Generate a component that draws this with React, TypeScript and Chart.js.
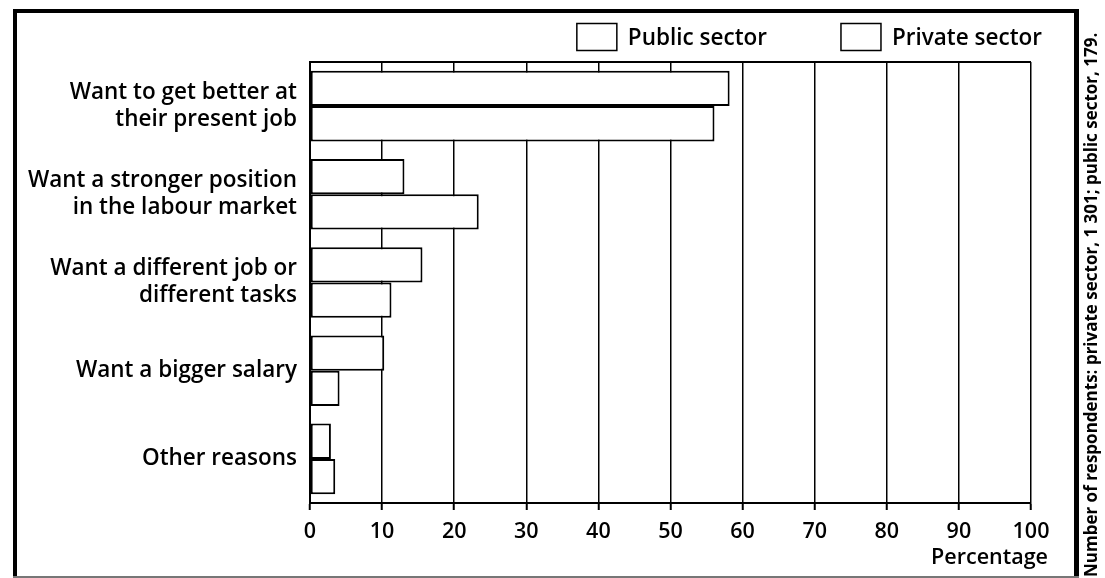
import React, { useEffect, useRef } from 'react';
import { Chart, registerables } from 'chart.js';

Chart.register(...registerables);

// ---- data ----
const categories: (string | string[])[] = [
  ['Want to get better at', 'their present job'],
  ['Want a stronger position', 'in the labour market'],
  ['Want a different job or', 'different tasks'],
  'Want a bigger salary',
  'Other reasons',
];
const seriesNames = ['Public sector', 'Private sector'];
const publicSector = [58.2, 13.1, 15.6, 10.3, 2.9];
const privateSector = [56.1, 23.4, 11.3, 4.1, 3.5];
const xTicks = [0, 10, 20, 30, 40, 50, 60, 70, 80, 90, 100];
const axisTitle = 'Percentage';
const note = 'Number of respondents: private sector, 1 301; public sector, 179.';

const FONT = '"Open Sans"';

const decor = {
  id: 'decor',
  beforeDraw(chart: any) {
    const ctx = chart.ctx as CanvasRenderingContext2D;
    ctx.save();
    ctx.fillStyle = '#fff';
    ctx.fillRect(0, 0, chart.width, chart.height);
    // frame
    ctx.fillStyle = '#000';
    ctx.fillRect(13, 9, 4, 569);
    ctx.fillRect(13, 9, 1066, 4);
    ctx.fillRect(1074, 9, 5, 569);
    ctx.fillStyle = '#777';
    ctx.fillRect(13, 576, 1066, 2);
    ctx.restore();
  },
  afterDraw(chart: any) {
    const ctx = chart.ctx as CanvasRenderingContext2D;
    const { left, right, top } = chart.chartArea;
    ctx.save();
    // top line of plot frame
    ctx.strokeStyle = '#000';
    ctx.lineWidth = 2;
    ctx.beginPath();
    ctx.moveTo(left, top);
    ctx.lineTo(right, top);
    ctx.stroke();

    // legend (right-aligned)
    ctx.font = `600 22.5px ${FONT}`;
    ctx.textBaseline = 'middle';
    ctx.textAlign = 'left';
    const boxW = 40, boxH = 27, boxGap = 11, itemGap = 74;
    const legendRight = 1042;
    const names = chart.data.datasets.map((d: any) => d.label);
    const widths = names.map((n: string) => ctx.measureText(n).width);
    let total = 0;
    names.forEach((_: string, i: number) => {
      total += boxW + boxGap + widths[i] + (i < names.length - 1 ? itemGap : 0);
    });
    let x = legendRight - total;
    const cy = 37;
    names.forEach((n: string, i: number) => {
      const ds = chart.data.datasets[i];
      ctx.fillStyle = ds.backgroundColor;
      ctx.fillRect(x, cy - boxH / 2, boxW, boxH);
      ctx.strokeStyle = '#000';
      ctx.lineWidth = 1.5;
      ctx.strokeRect(x, cy - boxH / 2, boxW, boxH);
      ctx.fillStyle = '#000';
      ctx.fillText(n, x + boxW + boxGap, cy + 2);
      x += boxW + boxGap + widths[i] + itemGap;
    });

    // axis caption
    ctx.textAlign = 'right';
    ctx.font = `600 21.5px ${FONT}`;
    ctx.fillText(axisTitle, 1048, 558);

    // vertical note
    ctx.translate(1092, 577);
    ctx.rotate(-Math.PI / 2);
    ctx.textAlign = 'left';
    ctx.textBaseline = 'middle';
    ctx.font = `bold 17px ${FONT}`;
    ctx.fillText(note, 0, 0);
    ctx.restore();
  },
};

export default function App() {
  const ref = useRef<HTMLCanvasElement | null>(null);
  useEffect(() => {
    document.body.style.margin = '0';
    const canvas = ref.current!;
    const chart = new Chart(canvas, {
      type: 'bar',
      data: {
        labels: categories,
        datasets: [
          {
            label: seriesNames[0],
            data: publicSector,
            backgroundColor: '#fff',
            borderColor: '#000',
            borderWidth: 2,
            borderSkipped: false,
          },
          {
            label: seriesNames[1],
            data: privateSector,
            backgroundColor: '#fff',
            borderColor: '#000',
            borderWidth: 2,
            borderSkipped: false,
          },
        ],
      },
      options: {
        indexAxis: 'y',
        animation: false,
        responsive: false,
        devicePixelRatio: 1,
        layout: { padding: { left: 0, right: 74, top: 62, bottom: 0 } },
        datasets: { bar: { categoryPercentage: 0.8, barPercentage: 1 } },
        plugins: { legend: { display: false }, tooltip: { enabled: false } },
        scales: {
          x: {
            type: 'linear',
            position: 'bottom',
            min: 0,
            max: 100,
            afterBuildTicks: (s: any) => {
              s.ticks = xTicks.map((v) => ({ value: v }));
            },
            ticks: {
              color: '#000',
              font: { family: FONT, size: 21.5, weight: '600' },
              padding: 9,
              maxRotation: 0,
            },
            grid: {
              color: '#000',
              lineWidth: 1.5,
              drawTicks: true,
              tickLength: 7,
              tickColor: '#000',
              tickWidth: 2,
            },
            border: { color: '#000', width: 2 },
            afterFit: (s: any) => {
              s.height = 75;
            },
          },
          y: {
            type: 'category',
            position: 'left',
            ticks: {
              color: '#000',
              font: { family: FONT, size: 22.5, weight: '600', lineHeight: 1.2 },
              padding: 13,
            },
            grid: { display: false, drawTicks: false },
            border: { color: '#000', width: 2 },
            afterFit: (s: any) => {
              s.width = 310;
            },
          },
        },
      } as any,
      plugins: [decor],
    });
    return () => chart.destroy();
  }, []);
  return (
    <div style={{ position: 'absolute', left: 0, top: 0, width: 1105, height: 578 }}>
      <canvas ref={ref} width={1105} height={578} style={{ display: 'block' }} />
    </div>
  );
}
